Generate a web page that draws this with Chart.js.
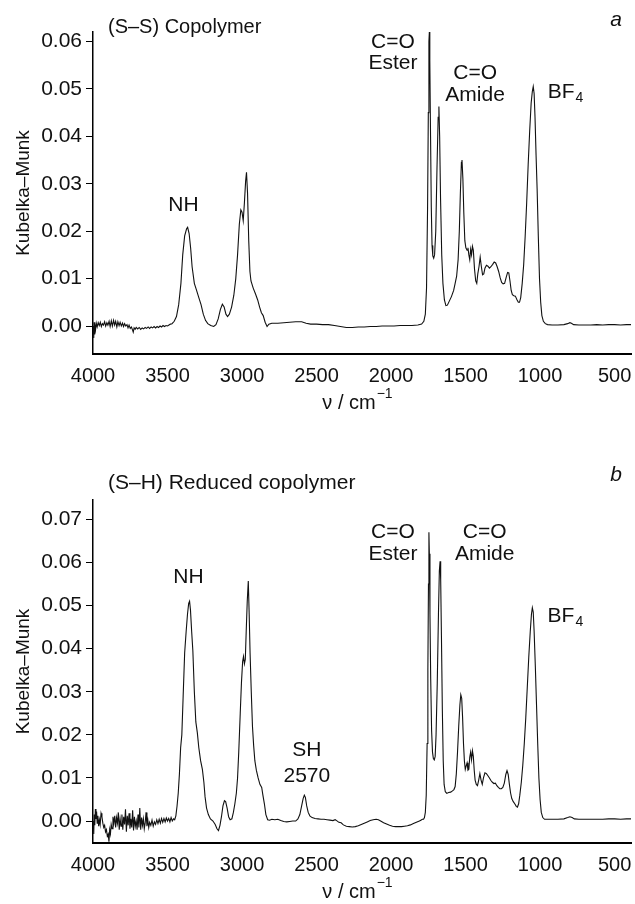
<!DOCTYPE html>
<html>
<head>
<meta charset="utf-8">
<title>Kubelka-Munk spectra</title>
<script src="https://cdn.jsdelivr.net/npm/chart.js@4.4.1/dist/chart.umd.min.js"></script>
<style>
  html, body { margin: 0; padding: 0; background: #fff; }
  #wrap { position: relative; width: 635px; height: 904px; overflow: hidden; }
  canvas { position: absolute; left: 0; }
  #chart-a { top: 0; }
  #chart-b { top: 450px; }
</style>
</head>
<body>
<div id="wrap">
  <canvas id="chart-a" width="635" height="450"></canvas>
  <canvas id="chart-b" width="635" height="454"></canvas>
</div>
<script>
// x axis (wavenumber, cm-1), shared by both panels
const waveTicks = [4000, 3500, 3000, 2500, 2000, 1500, 1000, 500];

// panel a: (S-S) copolymer, [wavenumber, Kubelka-Munk]
const spectrumA = [
  [3998, 0.0000], [3995, -0.0025], [3993, 0.0008], [3990, -0.0018], [3987, 0.0005],
  [3983, -0.0008], [3978, 0.0006], [3972, -0.0002], [3965, 0.0007], [3958, 0.0001],
  [3951, 0.0008], [3944, -0.0001], [3937, 0.0005], [3930, 0.0002], [3922, 0.0009],
  [3915, 0.0000], [3907, 0.0007], [3900, 0.0002], [3892, 0.0010], [3885, -0.0001],
  [3877, 0.0011], [3870, 0.0000], [3862, 0.0012], [3855, 0.0002], [3848, 0.0010],
  [3840, -0.0002], [3833, 0.0009], [3825, 0.0001], [3818, 0.0008], [3810, 0.0000],
  [3802, 0.0006], [3795, -0.0001], [3788, 0.0005], [3780, 0.0000], [3772, 0.0003],
  [3765, -0.0004], [3758, 0.0002], [3750, -0.0005], [3742, -0.0002], [3735, -0.0008],
  [3730, -0.0013], [3724, -0.0004], [3717, -0.0007], [3710, -0.0003], [3700, -0.0006],
  [3690, -0.0003], [3680, -0.0007], [3670, -0.0004], [3660, -0.0006], [3650, -0.0003],
  [3640, -0.0005], [3630, -0.0002], [3620, -0.0005], [3610, -0.0002], [3600, -0.0004],
  [3590, -0.0001], [3580, -0.0004], [3570, -0.0001], [3560, -0.0003], [3550, 0.0000],
  [3540, -0.0002], [3530, 0.0001], [3520, -0.0001], [3510, 0.0001], [3500, 0.0000],
  [3490, 0.0002], [3480, 0.0004], [3470, 0.0005], [3455, 0.0010], [3440, 0.0020],
  [3425, 0.0045], [3410, 0.0090], [3398, 0.0150], [3385, 0.0190], [3372, 0.0205],
  [3365, 0.0208], [3355, 0.0195], [3345, 0.0165], [3335, 0.0125], [3320, 0.0090],
  [3305, 0.0075], [3290, 0.0060], [3275, 0.0045], [3260, 0.0025], [3245, 0.0012],
  [3230, 0.0005], [3210, 0.0001], [3190, -0.0001], [3175, 0.0003], [3160, 0.0015],
  [3145, 0.0035], [3132, 0.0046], [3120, 0.0040], [3108, 0.0025], [3097, 0.0020],
  [3085, 0.0025], [3070, 0.0040], [3055, 0.0065], [3042, 0.0100], [3030, 0.0150],
  [3018, 0.0215], [3008, 0.0245], [3000, 0.0240], [2992, 0.0222], [2984, 0.0260],
  [2976, 0.0305], [2970, 0.0324], [2963, 0.0280], [2955, 0.0180], [2947, 0.0115],
  [2940, 0.0095], [2925, 0.0080], [2910, 0.0068], [2895, 0.0055], [2882, 0.0040],
  [2870, 0.0028], [2858, 0.0022], [2845, 0.0008], [2832, -0.0001], [2820, 0.0004],
  [2800, 0.0006], [2760, 0.0006], [2720, 0.0007], [2680, 0.0008], [2640, 0.0009],
  [2600, 0.0009], [2570, 0.0006], [2540, 0.0004], [2500, 0.0004], [2460, 0.0003],
  [2420, 0.0003], [2380, 0.0001], [2340, -0.0001], [2300, -0.0003], [2260, -0.0003],
  [2220, -0.0002], [2180, -0.0002], [2140, -0.0001], [2100, -0.0001], [2060, 0.0000],
  [2020, 0.0000], [1980, 0.0000], [1940, 0.0001], [1900, 0.0001], [1860, 0.0001],
  [1820, 0.0002], [1795, 0.0004], [1780, 0.0010], [1770, 0.0025], [1762, 0.0080],
  [1755, 0.0250], [1750, 0.0450], [1746, 0.0600], [1743, 0.0620], [1740, 0.0560],
  [1735, 0.0400], [1730, 0.0250], [1725, 0.0170], [1720, 0.0148], [1714, 0.0143],
  [1708, 0.0150], [1700, 0.0200], [1692, 0.0330], [1684, 0.0440], [1679, 0.0463],
  [1674, 0.0400], [1668, 0.0270], [1660, 0.0150], [1652, 0.0090], [1642, 0.0055],
  [1632, 0.0043], [1622, 0.0044], [1610, 0.0052], [1595, 0.0062], [1580, 0.0075],
  [1570, 0.0090], [1560, 0.0105], [1550, 0.0140], [1542, 0.0200], [1535, 0.0280],
  [1528, 0.0345], [1524, 0.0350], [1518, 0.0310], [1512, 0.0240], [1505, 0.0180],
  [1498, 0.0165], [1490, 0.0160], [1484, 0.0165], [1478, 0.0150], [1472, 0.0140],
  [1466, 0.0162], [1460, 0.0150], [1454, 0.0168], [1448, 0.0160], [1440, 0.0120],
  [1432, 0.0095], [1425, 0.0090], [1418, 0.0110], [1410, 0.0125], [1402, 0.0145],
  [1394, 0.0125], [1386, 0.0108], [1378, 0.0110], [1370, 0.0122], [1360, 0.0128],
  [1350, 0.0126], [1340, 0.0122], [1330, 0.0125], [1318, 0.0130], [1308, 0.0135],
  [1298, 0.0133], [1288, 0.0125], [1278, 0.0115], [1268, 0.0102], [1258, 0.0092],
  [1248, 0.0089], [1238, 0.0090], [1228, 0.0102], [1218, 0.0113], [1210, 0.0112],
  [1202, 0.0095], [1194, 0.0075], [1186, 0.0066], [1176, 0.0064], [1166, 0.0063],
  [1156, 0.0056], [1146, 0.0050], [1138, 0.0050], [1130, 0.0060], [1120, 0.0090],
  [1110, 0.0130], [1100, 0.0190], [1090, 0.0260], [1080, 0.0340], [1070, 0.0410],
  [1060, 0.0470], [1052, 0.0495], [1046, 0.0505], [1040, 0.0490], [1034, 0.0440],
  [1027, 0.0360], [1020, 0.0290], [1012, 0.0190], [1004, 0.0100], [996, 0.0050],
  [988, 0.0022], [978, 0.0010], [965, 0.0005], [950, 0.0003], [920, 0.0002],
  [880, 0.0002], [840, 0.0003], [815, 0.0005], [800, 0.0007], [790, 0.0006],
  [775, 0.0003], [740, 0.0002], [700, 0.0002], [660, 0.0002], [620, 0.0003],
  [580, 0.0002], [540, 0.0003], [500, 0.0003], [460, 0.0002], [420, 0.0003], [390, 0.0003]
];

// panel b: (S-H) reduced copolymer
const spectrumB = [
  [3998, 0.0000], [3995, -0.0030], [3992, 0.0015], [3988, -0.0010], [3984, 0.0028],
  [3980, 0.0005], [3976, 0.0022], [3972, -0.0005], [3967, 0.0012], [3962, -0.0012],
  [3957, 0.0003], [3952, -0.0008], [3946, 0.0018], [3940, 0.0010], [3934, -0.0005],
  [3928, -0.0015], [3922, -0.0010], [3916, -0.0025], [3910, -0.0020], [3904, -0.0035],
  [3898, -0.0030], [3893, -0.0048], [3888, -0.0020], [3883, -0.0030], [3878, -0.0008],
  [3872, -0.0018], [3866, 0.0010], [3860, -0.0005], [3854, 0.0012], [3848, -0.0015],
  [3842, 0.0008], [3836, -0.0005], [3830, 0.0020], [3824, -0.0020], [3818, 0.0005],
  [3812, -0.0012], [3806, 0.0015], [3800, -0.0020], [3794, 0.0010], [3788, -0.0008],
  [3782, 0.0027], [3776, -0.0025], [3770, 0.0012], [3764, -0.0010], [3758, 0.0018],
  [3752, -0.0018], [3746, 0.0005], [3740, -0.0015], [3734, 0.0025], [3728, -0.0022],
  [3722, 0.0010], [3716, -0.0012], [3710, 0.0000], [3704, -0.0020], [3698, 0.0015],
  [3692, -0.0015], [3686, 0.0030], [3680, -0.0020], [3674, 0.0008], [3668, -0.0010],
  [3662, 0.0005], [3656, -0.0018], [3650, -0.0005], [3644, 0.0020], [3638, -0.0012],
  [3632, 0.0002], [3626, -0.0015], [3620, -0.0003], [3612, -0.0010], [3604, 0.0002],
  [3596, -0.0012], [3588, -0.0002], [3580, -0.0008], [3572, 0.0003], [3564, -0.0006],
  [3556, 0.0004], [3548, -0.0005], [3540, 0.0006], [3532, -0.0003], [3524, 0.0006],
  [3516, -0.0002], [3508, 0.0007], [3500, 0.0000], [3492, 0.0006], [3484, -0.0002],
  [3476, 0.0008], [3468, 0.0000], [3460, 0.0005], [3452, 0.0003], [3444, 0.0012],
  [3436, 0.0035], [3428, 0.0065], [3420, 0.0110], [3412, 0.0170], [3404, 0.0200],
  [3395, 0.0290], [3385, 0.0390], [3375, 0.0440], [3366, 0.0480], [3358, 0.0505],
  [3352, 0.0510], [3346, 0.0490], [3338, 0.0440], [3330, 0.0395], [3320, 0.0300],
  [3310, 0.0230], [3300, 0.0205], [3290, 0.0170], [3278, 0.0140], [3266, 0.0120],
  [3256, 0.0090], [3248, 0.0056], [3238, 0.0030], [3226, 0.0015], [3212, 0.0005],
  [3195, 0.0000], [3180, -0.0008], [3168, -0.0018], [3158, -0.0022], [3148, -0.0010],
  [3138, 0.0010], [3128, 0.0035], [3118, 0.0047], [3110, 0.0045], [3100, 0.0030],
  [3090, 0.0010], [3080, 0.0003], [3068, 0.0005], [3058, 0.0020], [3048, 0.0040],
  [3038, 0.0065], [3030, 0.0100], [3022, 0.0160], [3012, 0.0250], [3004, 0.0320],
  [2996, 0.0370], [2990, 0.0382], [2984, 0.0365], [2978, 0.0375], [2972, 0.0440],
  [2965, 0.0510], [2958, 0.0557], [2952, 0.0480], [2946, 0.0390], [2938, 0.0300],
  [2930, 0.0220], [2922, 0.0175], [2914, 0.0140], [2904, 0.0118], [2892, 0.0100],
  [2880, 0.0085], [2868, 0.0078], [2860, 0.0060], [2850, 0.0040], [2840, 0.0015],
  [2828, 0.0003], [2815, 0.0002], [2800, 0.0004], [2780, 0.0003], [2760, 0.0004],
  [2740, 0.0001], [2720, -0.0001], [2700, -0.0002], [2680, -0.0001], [2660, 0.0000],
  [2640, 0.0000], [2625, 0.0005], [2612, 0.0015], [2600, 0.0035], [2590, 0.0052],
  [2582, 0.0060], [2575, 0.0055], [2566, 0.0035], [2556, 0.0020], [2545, 0.0012],
  [2530, 0.0008], [2510, 0.0006], [2490, 0.0005], [2470, 0.0004], [2450, 0.0004],
  [2430, 0.0003], [2410, 0.0002], [2390, 0.0001], [2375, 0.0003], [2365, 0.0001],
  [2350, -0.0003], [2335, -0.0004], [2320, -0.0009], [2300, -0.0012], [2280, -0.0013],
  [2260, -0.0014], [2240, -0.0013], [2220, -0.0011], [2200, -0.0008], [2180, -0.0005],
  [2160, -0.0002], [2140, 0.0001], [2120, 0.0003], [2100, 0.0004], [2085, 0.0003],
  [2070, 0.0000], [2050, -0.0004], [2030, -0.0007], [2010, -0.0010], [1990, -0.0012],
  [1970, -0.0013], [1950, -0.0013], [1930, -0.0013], [1910, -0.0012], [1890, -0.0011],
  [1870, -0.0009], [1850, -0.0006], [1830, -0.0003], [1810, 0.0000], [1800, 0.0002],
  [1790, 0.0004], [1782, 0.0004], [1776, 0.0008], [1770, 0.0020], [1764, 0.0060],
  [1758, 0.0180], [1753, 0.0350], [1749, 0.0550], [1746, 0.0670], [1743, 0.0620],
  [1739, 0.0480], [1734, 0.0330], [1728, 0.0210], [1722, 0.0160], [1716, 0.0145],
  [1710, 0.0142], [1704, 0.0150], [1698, 0.0200], [1690, 0.0320], [1682, 0.0480],
  [1676, 0.0580], [1671, 0.0603], [1667, 0.0560], [1662, 0.0430], [1656, 0.0260],
  [1650, 0.0140], [1644, 0.0085], [1636, 0.0068], [1626, 0.0064], [1614, 0.0066],
  [1600, 0.0067], [1588, 0.0070], [1578, 0.0073], [1570, 0.0080], [1562, 0.0110],
  [1554, 0.0160], [1546, 0.0220], [1538, 0.0270], [1532, 0.0293], [1526, 0.0285],
  [1520, 0.0240], [1514, 0.0180], [1508, 0.0140], [1502, 0.0120], [1496, 0.0128],
  [1490, 0.0135], [1484, 0.0118], [1478, 0.0120], [1472, 0.0148], [1466, 0.0160],
  [1460, 0.0142], [1454, 0.0163], [1448, 0.0150], [1442, 0.0118], [1436, 0.0095],
  [1428, 0.0085], [1420, 0.0082], [1412, 0.0095], [1404, 0.0110], [1396, 0.0095],
  [1388, 0.0085], [1380, 0.0100], [1370, 0.0112], [1360, 0.0110], [1350, 0.0105],
  [1340, 0.0100], [1330, 0.0094], [1320, 0.0090], [1310, 0.0087], [1300, 0.0088],
  [1290, 0.0082], [1280, 0.0078], [1270, 0.0075], [1260, 0.0075], [1250, 0.0078],
  [1240, 0.0088], [1230, 0.0108], [1222, 0.0117], [1214, 0.0108], [1206, 0.0085],
  [1198, 0.0065], [1190, 0.0052], [1180, 0.0045], [1170, 0.0040], [1160, 0.0034],
  [1152, 0.0032], [1144, 0.0040], [1136, 0.0060], [1126, 0.0090], [1116, 0.0130],
  [1106, 0.0180], [1096, 0.0240], [1086, 0.0310], [1076, 0.0380], [1066, 0.0440],
  [1058, 0.0480], [1052, 0.0495], [1046, 0.0485], [1040, 0.0440], [1032, 0.0360],
  [1024, 0.0270], [1016, 0.0180], [1008, 0.0100], [1000, 0.0050], [992, 0.0020],
  [982, 0.0008], [970, 0.0004], [950, 0.0004], [920, 0.0004], [880, 0.0004],
  [840, 0.0005], [815, 0.0008], [800, 0.0010], [785, 0.0008], [770, 0.0005],
  [740, 0.0004], [700, 0.0004], [660, 0.0004], [620, 0.0004], [580, 0.0004],
  [540, 0.0005], [500, 0.0005], [460, 0.0004], [420, 0.0005], [390, 0.0005]
];

// band labels, placed at [wavenumber, Kubelka-Munk]
const bandsA = [
  { text: 'NH', at: [3393, 0.0254] },
  { text: 'C=O', at: [1987, 0.0598] },
  { text: 'Ester', at: [1987, 0.0554] },
  { text: 'C=O', at: [1436, 0.0533] },
  { text: 'Amide', at: [1436, 0.0486] },
  { text: 'BF', sub: '4', at: [829, 0.0493] }
];
const bandsB = [
  { text: 'NH', at: [3359, 0.0566] },
  { text: 'SH', at: [2565, 0.0164] },
  { text: '2570', at: [2565, 0.0104] },
  { text: 'C=O', at: [1987, 0.0670] },
  { text: 'Ester', at: [1987, 0.0619] },
  { text: 'C=O', at: [1372, 0.0670] },
  { text: 'Amide', at: [1372, 0.0619] },
  { text: 'BF', sub: '4', at: [830, 0.0476] }
];

const FONT = '"Liberation Sans", Arial, Helvetica, sans-serif';
const INK = '#111';

// draws panel title, letter, axis titles and band labels
const spectrumText = {
  id: 'spectrumText',
  afterDraw(chart, args, opts) {
    const { ctx, chartArea } = chart;
    const xs = chart.scales.x, ys = chart.scales.y;
    ctx.save();
    ctx.fillStyle = INK;
    ctx.textBaseline = 'middle';

    // title + panel letter
    ctx.font = opts.titleSize + 'px ' + FONT;
    ctx.textAlign = 'left';
    ctx.fillText(opts.title, 108, opts.titleY);
    ctx.font = 'italic 21px ' + FONT;
    ctx.textAlign = 'center';
    ctx.fillText(opts.letter, 616, opts.letterY);

    // band labels
    opts.bands.forEach(b => {
      const px = xs.getPixelForValue(b.at[0]);
      const py = ys.getPixelForValue(b.at[1]);
      ctx.font = '21px ' + FONT;
      if (b.sub) {
        const w1 = ctx.measureText(b.text).width;
        ctx.font = '14px ' + FONT;
        const w2 = ctx.measureText(b.sub).width;
        const left = px - (w1 + w2 + 1) / 2;
        ctx.textAlign = 'left';
        ctx.font = '21px ' + FONT;
        ctx.fillText(b.text, left, py);
        ctx.font = '14px ' + FONT;
        ctx.fillText(b.sub, left + w1 + 1, py + 6);
      } else {
        ctx.textAlign = 'center';
        ctx.fillText(b.text, px, py);
      }
    });

    // y axis title
    ctx.font = '19px ' + FONT;
    ctx.textAlign = 'center';
    ctx.save();
    ctx.translate(24, (chartArea.top + chartArea.bottom) / 2);
    ctx.rotate(-Math.PI / 2);
    ctx.fillText('Kubelka\u2013Munk', 0, 0);
    ctx.restore();

    // x axis title: ν / cm^-1
    ctx.font = '20px ' + FONT;
    const main = '\u03bd / cm';
    const wMain = ctx.measureText(main).width;
    ctx.font = '14px ' + FONT;
    const wSup = ctx.measureText('\u22121').width;
    const left = 357 - (wMain + wSup) / 2;
    ctx.textAlign = 'left';
    ctx.font = '20px ' + FONT;
    ctx.fillText(main, left, opts.xTitleY);
    ctx.font = '14px ' + FONT;
    ctx.fillText('\u22121', left + wMain + 1, opts.xTitleY - 9);
    ctx.restore();
  }
};

function buildChart(canvasId, spectrum, panel) {
  return new Chart(document.getElementById(canvasId), {
    type: 'line',
    data: {
      datasets: [{
        data: spectrum.map(p => ({ x: p[0], y: p[1] })),
        borderColor: INK,
        borderWidth: 1.1,
        pointRadius: 0,
        tension: 0,
        fill: false
      }]
    },
    options: {
      responsive: false,
      animation: false,
      devicePixelRatio: 1,
      layout: { padding: { left: 0, right: 4, top: panel.top, bottom: 0 } },
      plugins: {
        legend: { display: false },
        tooltip: { enabled: false },
        spectrumText: panel
      },
      scales: {
        x: {
          type: 'linear',
          reverse: true,
          min: 390,
          max: 4000,
          afterFit: s => { s.height = panel.xHeight; },
          afterBuildTicks: s => { s.ticks = waveTicks.map(v => ({ value: v })); },
          ticks: {
            color: INK,
            font: { family: FONT, size: 20 },
            padding: 2,
            maxRotation: 0,
            autoSkip: false,
            callback: v => String(v)
          },
          grid: { display: false },
          border: { color: '#000', width: 2 }
        },
        y: {
          min: panel.yMin,
          max: panel.yMax,
          afterFit: s => { s.width = 93; },
          ticks: {
            stepSize: 0.01,
            includeBounds: false,
            color: INK,
            font: { family: FONT, size: 21 },
            padding: 4,
            callback: v => v.toFixed(2)
          },
          grid: { drawOnChartArea: false, tickLength: 7, color: '#000', lineWidth: 1 },
          border: { color: '#000', width: 1.5 }
        }
      }
    },
    plugins: [spectrumText]
  });
}

buildChart('chart-a', spectrumA, {
  title: '(S\u2013S) Copolymer', titleSize: 20, titleY: 27,
  letter: 'a', letterY: 20,
  bands: bandsA,
  top: 32, xHeight: 96, yMin: -0.0059, yMax: 0.062,
  xTitleY: 403
});

buildChart('chart-b', spectrumB, {
  title: '(S\u2013H) Reduced copolymer', titleSize: 21, titleY: 33,
  letter: 'b', letterY: 25,
  bands: bandsB,
  top: 50, xHeight: 61, yMin: -0.0051, yMax: 0.0745,
  xTitleY: 892
- 450
});
</script>
</body>
</html>
